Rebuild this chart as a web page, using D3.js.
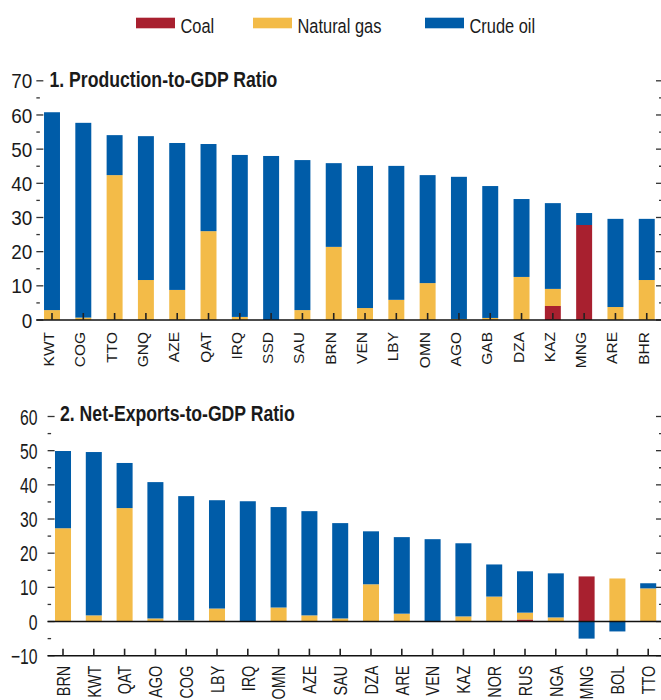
<!DOCTYPE html>
<html>
<head>
<meta charset="utf-8">
<script src="https://cdn.jsdelivr.net/npm/d3@7"></script>
<style>
  html, body { margin: 0; padding: 0; background: #fff; }
  svg { display: block; }
  text { fill: #1a1a1a; font-family: "Liberation Sans", Arial, sans-serif; }
</style>
</head>
<body>
<svg id="chart" width="661" height="700"></svg>
<script>
// Fuel groups and colours
const fuels = ["coal", "gas", "oil"];
const fuelLabels = ["Coal", "Natural gas", "Crude oil"];
const fuelColors = ["#A8202F", "#F3BB48", "#005CA8"];

// Panel 1: production-to-GDP ratio (percent)
const prodCountries = ["KWT","COG","TTO","GNQ","AZE","QAT","IRQ","SSD","SAU","BRN",
                       "VEN","LBY","OMN","AGO","GAB","DZA","KAZ","MNG","ARE","BHR"];
const prodCoal = [0,0,0,0,0,0,0,0,0,0, 0,0,0,0,0,0,4.1,27.8,0,0];
const prodGas  = [2.9,0.7,42.4,11.7,8.8,26.0,0.9,0,2.9,21.4, 3.5,5.9,10.8,0.3,0.6,12.6,5.0,0,3.8,11.7];
const prodOil  = [57.9,57.0,11.7,42.1,43.0,25.5,47.4,48.0,43.9,24.5, 41.6,39.2,31.6,41.6,38.6,22.8,25.1,3.5,25.8,17.9];
const prodTicks = [0,10,20,30,40,50,60,70];

// Panel 2: net-exports-to-GDP ratio (percent)
const exportCountries = ["BRN","KWT","QAT","AGO","COG","LBY","IRQ","OMN","AZE","SAU",
                         "DZA","ARE","VEN","KAZ","NOR","RUS","NGA","MNG","BOL","TTO"];
const exportCoal = [0,0,0,0,0,0,0,0,0,0, 0,0,0,0,0,0.6,0,13.2,0,0];
const exportGas  = [27.3,1.8,33.2,0.9,0.3,3.8,0,4.1,1.8,0.9, 10.9,2.3,0,1.5,7.3,2.0,1.2,0,12.6,9.7];
const exportOil  = [22.6,47.8,13.2,39.9,36.4,31.7,35.2,29.4,30.5,27.9, 15.5,22.4,24.1,21.4,9.4,12.1,12.9,-5.0,-2.9,1.5];
const exportTicks = [-10,0,10,20,30,40,50,60];

const svg = d3.select("#chart");

// Squeeze text horizontally to get a condensed face from the regular one
function condense(sel, factor) {
  sel.each(function () {
    const w = this.getComputedTextLength();
    this.setAttribute("textLength", (w * factor).toFixed(2));
    this.setAttribute("lengthAdjust", "spacingAndGlyphs");
  });
}

// Legend
const legend = svg.append("g");
const legendX = [136, 253, 425];
fuelLabels.forEach((lab, i) => {
  legend.append("rect").attr("x", legendX[i]).attr("y", 17.7)
    .attr("width", 39).attr("height", 10.6).attr("fill", fuelColors[i]);
  legend.append("text").attr("x", legendX[i] + 44.5).attr("y", 33)
    .attr("font-size", 20.5).text(lab).call(condense, 0.8);
});

function rows(countries, coal, gas, oil) {
  return countries.map((c, i) => ({ country: c, coal: coal[i], gas: gas[i], oil: oil[i] }));
}

function drawPanel(cfg) {
  const g = svg.append("g");
  const data = rows(cfg.countries, cfg.coal, cfg.gas, cfg.oil);

  const x = d3.scaleBand().domain(cfg.countries)
    .range([cfg.x0, cfg.x1]).paddingInner(cfg.pad).paddingOuter(cfg.pad / 2);
  const y = d3.scaleLinear().domain(cfg.domain).range(cfg.yRange);

  const stack = d3.stack().keys(fuels).order(d3.stackOrderNone).offset(d3.stackOffsetDiverging);
  const series = stack(data);

  g.append("g").selectAll("g").data(series).join("g")
    .attr("fill", (d, i) => fuelColors[i])
    .selectAll("rect").data(d => d).join("rect")
      .attr("x", d => x(d.data.country))
      .attr("width", x.bandwidth())
      .attr("y", d => y(Math.max(d[0], d[1])))
      .attr("height", d => Math.abs(y(d[0]) - y(d[1])));

  const minor = d3.range(cfg.domain[0] + 5, cfg.domain[1], 10);

  // Left axis: ticks point into the plot, labels outside
  const left = g.append("g").attr("transform", `translate(${cfg.x0},0)`);
  left.selectAll("line.major").data(cfg.ticks).join("line").attr("class", "major")
    .attr("x1", 0).attr("x2", 7).attr("y1", d => y(d)).attr("y2", d => y(d))
    .attr("stroke", "#333").attr("stroke-width", 1.3);
  left.selectAll("line.minor").data(minor).join("line").attr("class", "minor")
    .attr("x1", 0).attr("x2", 3.5).attr("y1", d => y(d)).attr("y2", d => y(d))
    .attr("stroke", "#333").attr("stroke-width", 1.3);
  left.selectAll("text").data(cfg.ticks).join("text")
    .attr("x", -cfg.labelGap).attr("y", d => y(d)).attr("dy", "0.36em")
    .attr("text-anchor", "end").attr("font-size", cfg.tickSize)
    .text(d => String(d).replace("-", "\u2212"))
    .call(condense, cfg.tickSqueeze);

  // Right axis: ticks only
  const right = g.append("g").attr("transform", `translate(662,0)`);
  right.selectAll("line.major").data(cfg.ticks).join("line")
    .attr("x1", 0).attr("x2", -6).attr("y1", d => y(d)).attr("y2", d => y(d))
    .attr("stroke", "#333").attr("stroke-width", 1.3);
  right.selectAll("line.minor").data(minor).join("line")
    .attr("x1", 0).attr("x2", -3).attr("y1", d => y(d)).attr("y2", d => y(d))
    .attr("stroke", "#333").attr("stroke-width", 1.3);

  // Zero line and bottom axis line
  const zeroY = y(0), baseY = y(cfg.domain[0]);
  g.append("line").attr("x1", cfg.x0).attr("x2", 662).attr("y1", zeroY).attr("y2", zeroY)
    .attr("stroke", "#111").attr("stroke-width", 1.5);
  if (baseY !== zeroY) {
    g.append("line").attr("x1", cfg.x0).attr("x2", 662).attr("y1", baseY).attr("y2", baseY)
      .attr("stroke", "#111").attr("stroke-width", 1.5);
  }

  // Category ticks and rotated labels
  g.selectAll("line.cat").data(cfg.countries).join("line").attr("class", "cat")
    .attr("x1", d => x(d) + x.bandwidth() / 2).attr("x2", d => x(d) + x.bandwidth() / 2)
    .attr("y1", baseY).attr("y2", baseY - 7)
    .attr("stroke", "#222").attr("stroke-width", 1.6);
  g.selectAll("text.cat").data(cfg.countries).join("text").attr("class", "cat")
    .attr("transform", d => `translate(${x(d) + x.bandwidth() / 2 + cfg.catShift},${baseY + cfg.catGap}) rotate(-90)`)
    .attr("text-anchor", "end")
    .attr("font-size", cfg.catSize)
    .text(d => d)
    .call(condense, cfg.catSqueeze);

  // Panel title
  g.append("text").attr("x", cfg.titleX).attr("y", cfg.titleY)
    .attr("font-size", 21.5).attr("font-weight", "bold").text(cfg.title)
    .call(condense, 0.82);
}

drawPanel({
  title: "1. Production-to-GDP Ratio",
  countries: prodCountries, coal: prodCoal, gas: prodGas, oil: prodOil,
  ticks: prodTicks, domain: [0, 70], yRange: [320, 80.8],
  x0: 36.35, x1: 662.4, pad: 0.49, labelGap: 4, tickSize: 21, tickSqueeze: 0.9,
  catShift: 2, catGap: 12, catSize: 15.5, catSqueeze: 1,
  titleX: 49.5, titleY: 87
});

drawPanel({
  title: "2. Net-Exports-to-GDP Ratio",
  countries: exportCountries, coal: exportCoal, gas: exportGas, oil: exportOil,
  ticks: exportTicks, domain: [-10, 60], yRange: [655.7, 416.5],
  x0: 47.6, x1: 663.6, pad: 0.48, labelGap: 10, tickSize: 22.5, tickSqueeze: 0.7,
  catShift: 6.8, catGap: 10, catSize: 19, catSqueeze: 0.76,
  titleX: 60, titleY: 421
});
</script>
</body>
</html>
